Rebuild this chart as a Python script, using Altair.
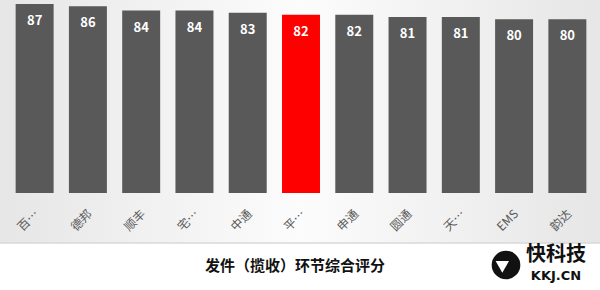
import altair as alt
import pandas as pd

companies = ["百…", "德邦", "顺丰", "宅…", "中通", "平…", "申通", "圆通", "天…", "EMS", "韵达"]
scores = [87, 86, 84, 84, 83, 82, 82, 81, 81, 80, 80]
highlighted = "平…"
title_text = "发件（揽收）环节综合评分"
logo_cn = "快科技"
logo_en = "KKJ.CN"

df = pd.DataFrame({
    "company": companies,
    "score": scores,
    "hl": ["yes" if c == highlighted else "no" for c in companies],
})

one = pd.DataFrame({"k": [0]})

FONT = "Noto Sans CJK SC"

bg = alt.Chart(one).mark_rect(
    fill=alt.Gradient(
        gradient="linear",
        stops=[
            alt.GradientStop(offset=0, color="#e6e6e6"),
            alt.GradientStop(offset=0.5, color="#fcfcfc"),
            alt.GradientStop(offset=1, color="#e6e6e6"),
        ],
        x1=0, x2=1, y1=0, y2=0,
    )
).encode(x=alt.value(-8), x2=alt.value(592), y=alt.value(-4), y2=alt.value(239))

line = alt.Chart(one).mark_rule(color="#d9d9d9", strokeWidth=1.5).encode(
    x=alt.value(-8), x2=alt.value(592), y=alt.value(239)
)

xenc = alt.X(
    "company:N",
    sort=companies,
    scale=alt.Scale(paddingInner=0.287, paddingOuter=0.1435),
    axis=None,
)
yenc = alt.Y("score:Q", scale=alt.Scale(domain=[0, 87], nice=False, zero=True), axis=None)

bars = alt.Chart(df).mark_bar().encode(
    x=xenc,
    y=yenc,
    color=alt.Color("hl:N", scale=alt.Scale(domain=["no", "yes"], range=["#595959", "#ff0000"]), legend=None),
)

vals = alt.Chart(df).mark_text(
    baseline="middle", dy=17, color="white", fontWeight="bold", fontSize=13, font=FONT
).encode(x=xenc, y=yenc, text="score:Q")

labels = alt.Chart(df).mark_text(
    angle=315, align="right", baseline="top", fontSize=12, color="#595959", font=FONT, dx=-2
).encode(x=xenc, y=alt.value(203), text="company:N")

title = alt.Chart(one).mark_text(
    text=title_text, fontSize=15, fontWeight="bold", color="#111111", font=FONT, align="center", baseline="middle"
).encode(x=alt.value(287), y=alt.value(262))

logo_circle = alt.Chart(one).mark_point(
    shape="circle", filled=True, color="#111111", size=820, opacity=1
).encode(x=alt.value(498), y=alt.value(261))

logo_plane = alt.Chart(one).mark_point(
    shape="triangle-right", filled=True, color="white", size=180, opacity=1, angle=330
).encode(x=alt.value(496), y=alt.value(260))

logo1 = alt.Chart(one).mark_text(
    text=logo_cn, fontSize=20, fontWeight="bold", color="#111111", font=FONT, align="center", baseline="middle"
).encode(x=alt.value(548), y=alt.value(251))

logo2 = alt.Chart(one).mark_text(
    text=logo_en, fontSize=13, fontWeight="bold", color="#111111", font="DejaVu Sans", align="center", baseline="middle"
).encode(x=alt.value(548), y=alt.value(272))

chart = alt.layer(bg, line, bars, vals, labels, title, logo_circle, logo_plane, logo1, logo2).properties(
    width=586,
    height=189,
    padding={"left": 8, "top": 4, "right": 6, "bottom": 97},
    autosize=alt.AutoSizeParams(type="none"),
    background="white",
).configure_view(stroke=None)

chart.save("out.html", embed_options={"renderer": "svg", "actions": False})
